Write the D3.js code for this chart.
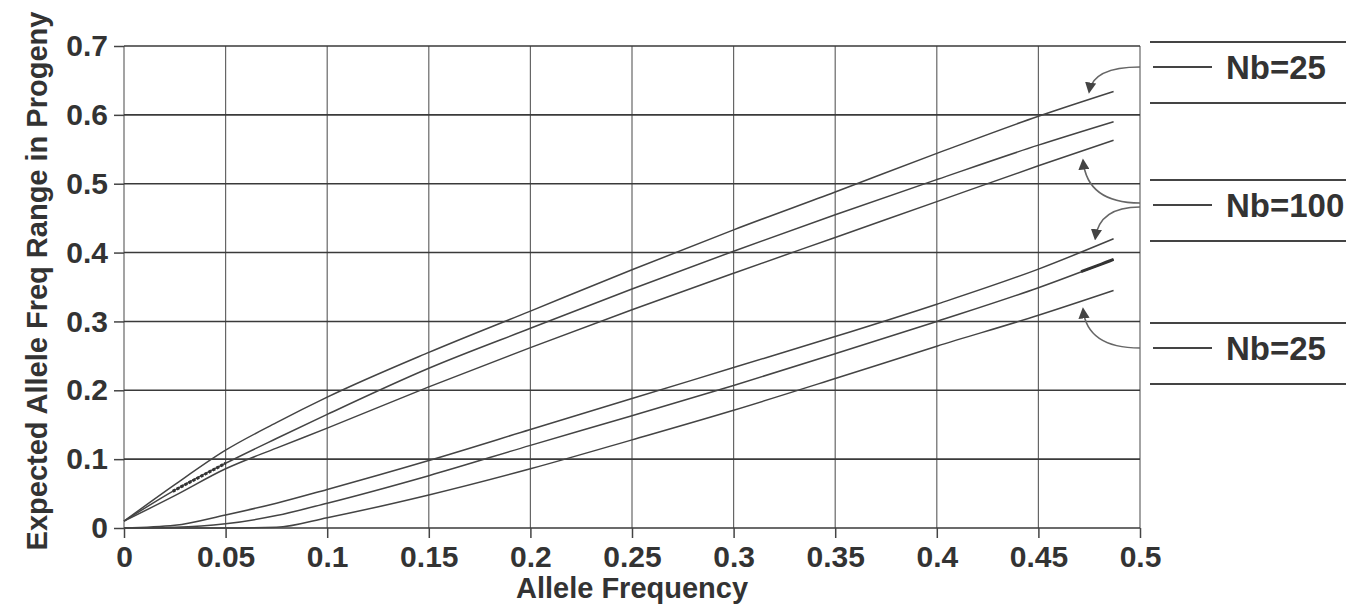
<!DOCTYPE html>
<html lang="en">
<head>
<meta charset="UTF-8">
<title>Expected Allele Freq Range</title>
<script src="https://d3js.org/d3.v7.min.js"></script>
<style>
  body { margin: 0; background: #fff; }
  svg { display: block; font-family: 'Liberation Sans', Arial, Helvetica, sans-serif; }
  .tick text { fill: #333; font-weight: bold; font-size: 30px; }
  .domain { display: none; }
  .tick line { stroke: #444; stroke-width: 1.5px; }
  .hgrid { stroke: #3a3a3a; stroke-width: 1.6px; }
  .vgrid { stroke: #666; stroke-width: 1.2px; }
  .curve { fill: none; stroke: #444; stroke-width: 1.5px; }
  .mark { fill: none; stroke: #333; stroke-width: 3px; }
  .title { fill: #333; font-weight: bold; font-size: 29px; }
  .legend-rule { stroke: #444; stroke-width: 1.8px; }
  .legend-key { stroke: #444; stroke-width: 2px; }
  .legend-label { fill: #333; font-weight: bold; font-size: 33px; }
  .arrow { fill: none; stroke: #666; stroke-width: 1.6px; }
</style>
</head>
<body>
<svg width="1354" height="610"></svg>
<script>
// allele frequency sampled along the x axis
const alleleFreq = [0, 0.025, 0.05, 0.075, 0.1, 0.15, 0.2, 0.25, 0.3, 0.35, 0.4, 0.45, 0.487];

// upper bounds of the expected range
const upperNb25  = [0.01, 0.063, 0.113, 0.153, 0.19, 0.255, 0.315, 0.375, 0.433, 0.488, 0.544, 0.598, 0.634];
const upperNb50  = [0.01, 0.055, 0.094, 0.13, 0.165, 0.232, 0.29, 0.347, 0.402, 0.455, 0.506, 0.556, 0.59];
const upperNb100 = [0.01, 0.047, 0.086, 0.116, 0.145, 0.205, 0.262, 0.317, 0.37, 0.422, 0.474, 0.526, 0.563];
// lower bounds of the expected range
const lowerNb100 = [0, 0.004, 0.019, 0.036, 0.056, 0.098, 0.143, 0.188, 0.233, 0.278, 0.325, 0.376, 0.42];
const lowerNb50  = [0, 0.001, 0.006, 0.018, 0.036, 0.076, 0.12, 0.163, 0.207, 0.253, 0.3, 0.349, 0.39];
const lowerNb25  = [0, 0, 0, 0.001, 0.015, 0.048, 0.086, 0.128, 0.171, 0.217, 0.264, 0.309, 0.345];

const xTickLabels = ["0", "0.05", "0.1", "0.15", "0.2", "0.25", "0.3", "0.35", "0.4", "0.45", "0.5"];
const yTickLabels = ["0", "0.1", "0.2", "0.3", "0.4", "0.5", "0.6", "0.7"];
const legendLabels = ["Nb=25", "Nb=100", "Nb=25"];

const svg = d3.select("svg");
const margin = {left: 124, right: 214, top: 46, bottom: 82};
const width = 1354 - margin.left - margin.right,
      height = 610 - margin.top - margin.bottom;

const x = d3.scaleLinear().domain([0, 0.5]).range([0, width]);
const y = d3.scaleLinear().domain([0, 0.7]).range([height, 0]);

const g = svg.append("g").attr("transform", `translate(${margin.left},${margin.top})`);

const xVals = xTickLabels.map(Number);
const yVals = yTickLabels.map(Number);

// grid
g.selectAll(".vgrid").data(xVals).join("line")
  .attr("class", "vgrid")
  .attr("x1", d => x(d)).attr("x2", d => x(d))
  .attr("y1", 0).attr("y2", height);

g.selectAll(".hgrid").data(yVals).join("line")
  .attr("class", "hgrid")
  .attr("x1", 0).attr("x2", width)
  .attr("y1", d => y(d)).attr("y2", d => y(d));

// axes
g.append("g")
  .attr("transform", `translate(0,${height})`)
  .call(d3.axisBottom(x).tickValues(xVals).tickSize(10).tickPadding(8)
    .tickFormat((d, i) => xTickLabels[i]));

g.append("g")
  .call(d3.axisLeft(y).tickValues(yVals).tickSize(10).tickPadding(6)
    .tickFormat((d, i) => yTickLabels[i]));

// curves
const series = [upperNb25, upperNb50, upperNb100, lowerNb100, lowerNb50, lowerNb25];
const line = d3.line()
  .x((d, i) => x(alleleFreq[i]))
  .y(d => y(d))
  .curve(d3.curveMonotoneX);

g.selectAll(".curve").data(series).join("path")
  .attr("class", "curve")
  .attr("d", line);

const interp = (arr, v) => {
  const i = Math.max(1, d3.bisectLeft(alleleFreq, v));
  const t = (v - alleleFreq[i - 1]) / (alleleFreq[i] - alleleFreq[i - 1]);
  return arr[i - 1] + t * (arr[i] - arr[i - 1]);
};

// darker pen marks left on two of the curves
const marks = [
  {data: upperNb50, from: 0.024, to: 0.05, dash: "3,1.5"},
  {data: lowerNb50, from: 0.471, to: 0.487, dash: null}
];
marks.forEach(m => {
  const pts = d3.range(m.from, m.to + 1e-9, 0.002).map(v => [x(v), y(interp(m.data, v))]);
  g.append("path").attr("class", "mark")
    .attr("d", d3.line()(pts))
    .attr("stroke-dasharray", m.dash);
});

// titles
svg.append("text").attr("class", "title")
  .attr("x", margin.left + width / 2).attr("y", 598)
  .attr("text-anchor", "middle")
  .text("Allele Frequency");

svg.append("text").attr("class", "title")
  .attr("transform", `translate(47,${margin.top + height / 2 - 6}) rotate(-90)`)
  .attr("text-anchor", "middle")
  .text("Expected Allele Freq Range in Progeny");

// legend
const legendX = 1150, legendW = 196;
const rowTops = [42, 180, 323];
const leg = svg.append("g");
legendLabels.forEach((lab, i) => {
  const top = rowTops[i];
  leg.append("line").attr("class", "legend-rule")
    .attr("x1", legendX).attr("x2", legendX + legendW).attr("y1", top).attr("y2", top);
  leg.append("line").attr("class", "legend-rule")
    .attr("x1", legendX).attr("x2", legendX + legendW).attr("y1", top + 61).attr("y2", top + 61);
  leg.append("line").attr("class", "legend-key")
    .attr("x1", legendX + 3).attr("x2", legendX + 62).attr("y1", top + 25).attr("y2", top + 25);
  leg.append("text").attr("class", "legend-label")
    .attr("x", legendX + 76).attr("y", top + 37)
    .text(lab);
});

// annotation arrows: legend row -> curve
svg.append("defs").append("marker")
  .attr("id", "head").attr("viewBox", "0 0 10 10")
  .attr("refX", 8).attr("refY", 5)
  .attr("markerWidth", 7).attr("markerHeight", 7)
  .attr("orient", "auto-start-reverse")
  .append("path").attr("d", "M0,0L10,5L0,10z").attr("fill", "#444");

const arrows = [
  {row: 0, sy: 25, data: upperNb25, at: 0.475, off: -8},
  {row: 1, sy: 23, data: upperNb100, at: 0.472, off: 10},
  {row: 1, sy: 27, data: lowerNb100, at: 0.478, off: -8},
  {row: 2, sy: 25, data: lowerNb25, at: 0.472, off: 9}
];
arrows.forEach(a => {
  const sx = 1140, sy = rowTops[a.row] + a.sy;
  const ex = margin.left + x(a.at), ey = margin.top + y(interp(a.data, a.at)) + a.off;
  const p = d3.path();
  p.moveTo(sx, sy);
  p.quadraticCurveTo(ex + 4, sy, ex, ey);
  svg.append("path").attr("class", "arrow").attr("d", p.toString())
    .attr("marker-end", "url(#head)");
});
</script>
</body>
</html>
